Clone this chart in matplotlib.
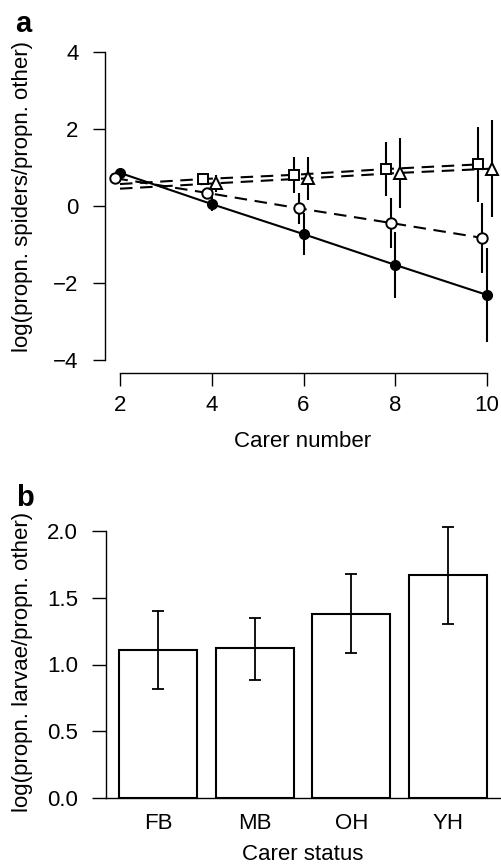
import numpy as np
import matplotlib
matplotlib.use("Agg")
import matplotlib.pyplot as plt

plt.rcParams['font.family'] = ['Liberation Sans', 'DejaVu Sans']
plt.rcParams['lines.scale_dashes'] = False

# panel a data
carers = [2, 4, 6, 8, 10]
filled_y = [0.86, 0.05, -0.73, -1.53, -2.31]
filled_err = [0.0, 0.18, 0.55, 0.85, 1.22]
open_y = [0.72, 0.34, -0.06, -0.44, -0.83]
open_err = [0.0, 0.14, 0.41, 0.65, 0.91]
# first value is line start only (no point drawn at 2)
square_y = [0.57, 0.70, 0.81, 0.96, 1.08]
square_err = [0.0, 0.16, 0.46, 0.70, 0.98]
tri_y = [0.45, 0.59, 0.72, 0.86, 0.97]
tri_err = [0.0, 0.22, 0.56, 0.91, 1.26]

# panel b data
status = ['FB', 'MB', 'OH', 'YH']
larvae = [1.11, 1.12, 1.38, 1.67]
larvae_lo = [0.815, 0.885, 1.085, 1.30]
larvae_hi = [1.40, 1.35, 1.68, 2.03]

W, H = 501, 868
fig = plt.figure(figsize=(W / 100, H / 100), dpi=100)

def px_axes(left, top, right, bottom):
    return fig.add_axes([left / W, 1 - bottom / H, (right - left) / W, (bottom - top) / H])

FS = 16
LW = 1.5
dash = (0, (9, 5.5))

# ---- panel a ----
ax = px_axes(105, 45, 500, 373)
ax.set_xlim(2 - 15 / 45.875, 2 + 380 / 45.875)
ax.set_ylim((206 - 373) / 38.5, (206 - 45) / 38.5)

x = np.array(carers, dtype=float)

# solid series, filled circles
ax.plot(x, filled_y, color='black', lw=LW, zorder=3)
ax.errorbar(x[1:], filled_y[1:], yerr=filled_err[1:], fmt='none', ecolor='black', elinewidth=LW, capsize=0)
ax.plot(x, filled_y, 'o', ms=7, color='black', zorder=4)

# open circles
xo = x - 0.1
ax.plot(xo, open_y, color='black', lw=LW, ls=dash, zorder=3)
ax.errorbar(xo[1:], open_y[1:], yerr=open_err[1:], fmt='none', ecolor='black', elinewidth=LW, capsize=0)
ax.plot(xo, open_y, 'o', ms=7.5, mfc='white', mec='black', mew=1.4, zorder=4)

# squares
xs = x - 0.2
xs[0] = 2
ax.plot(xs, square_y, color='black', lw=LW, ls=dash, zorder=3)
ax.errorbar(xs[1:], square_y[1:], yerr=square_err[1:], fmt='none', ecolor='black', elinewidth=LW, capsize=0)
ax.plot(xs[1:], square_y[1:], 's', ms=6.8, mfc='white', mec='black', mew=1.4, zorder=4)

# triangles
xt = x + 0.1
xt[0] = 2
ax.plot(xt, tri_y, color='black', lw=LW, ls=dash, zorder=3)
ax.errorbar(xt[1:], tri_y[1:], yerr=tri_err[1:], fmt='none', ecolor='black', elinewidth=LW, capsize=0)
ax.plot(xt[1:], tri_y[1:], '^', ms=8.8, mfc='white', mec='black', mew=1.4, zorder=4)

for s in ['top', 'right']:
    ax.spines[s].set_visible(False)
ax.spines['left'].set_bounds(-4, 4)
ax.spines['bottom'].set_bounds(2, 10)
for s in ['left', 'bottom']:
    ax.spines[s].set_linewidth(1.0)
ax.set_xticks(carers)
ax.set_yticks([-4, -2, 0, 2, 4])
ax.set_yticklabels(['\u22124', '\u22122', '0', '2', '4'])
ax.tick_params(axis='both', length=9, width=1.0, labelsize=FS)
ax.tick_params(axis='y', pad=10)
ax.tick_params(axis='x', pad=6.5)
ax.set_xlabel('Carer number', fontsize=FS, labelpad=11)
ax.set_ylabel('log(propn. spiders/propn. other)', fontsize=FS)
ax.yaxis.set_label_coords((33 - 105) / 395, (373 - 197) / 328)
fig.text(23 / W, 1 - 24 / H, 'a', fontsize=21, fontweight='bold', ha='center', va='center')

# ---- panel b ----
bx = px_axes(106, 525, 500, 798)
ppu = 96.67
bx.set_xlim((106 - 158) / ppu, (500 - 158) / ppu)
bx.set_ylim(0, (798 - 525) / 133.5)
pos = np.arange(len(status))
means = np.array(larvae)
yerr = [means - np.array(larvae_lo), np.array(larvae_hi) - means]
bx.bar(pos, means, width=78 / ppu, color='white', edgecolor='black', linewidth=1.5, zorder=2)
bx.errorbar(pos, means, yerr=yerr, fmt='none', ecolor='black', elinewidth=1.3,
            capsize=4.5, capthick=1.3, zorder=3, clip_on=False)
for s in ['top', 'right']:
    bx.spines[s].set_visible(False)
bx.spines['left'].set_bounds(0, 2)
for s in ['left', 'bottom']:
    bx.spines[s].set_linewidth(1.0)
bx.set_xticks(pos)
bx.set_xticklabels(status)
bx.set_yticks([0, 0.5, 1.0, 1.5, 2.0])
bx.set_yticklabels(['0.0', '0.5', '1.0', '1.5', '2.0'])
bx.tick_params(axis='y', length=10, width=1.0, labelsize=FS, pad=10)
bx.tick_params(axis='x', length=0, labelsize=FS, pad=11)
bx.set_xlabel('Carer status', fontsize=FS, labelpad=7)
bx.set_ylabel('log(propn. larvae/propn. other)', fontsize=FS)
bx.yaxis.set_label_coords((33 - 106) / 394, (798 - 662) / 273)
fig.text(25 / W, 1 - 498 / H, 'b', fontsize=21, fontweight='bold', ha='center', va='center')

fig.savefig('out.png', dpi=100)
